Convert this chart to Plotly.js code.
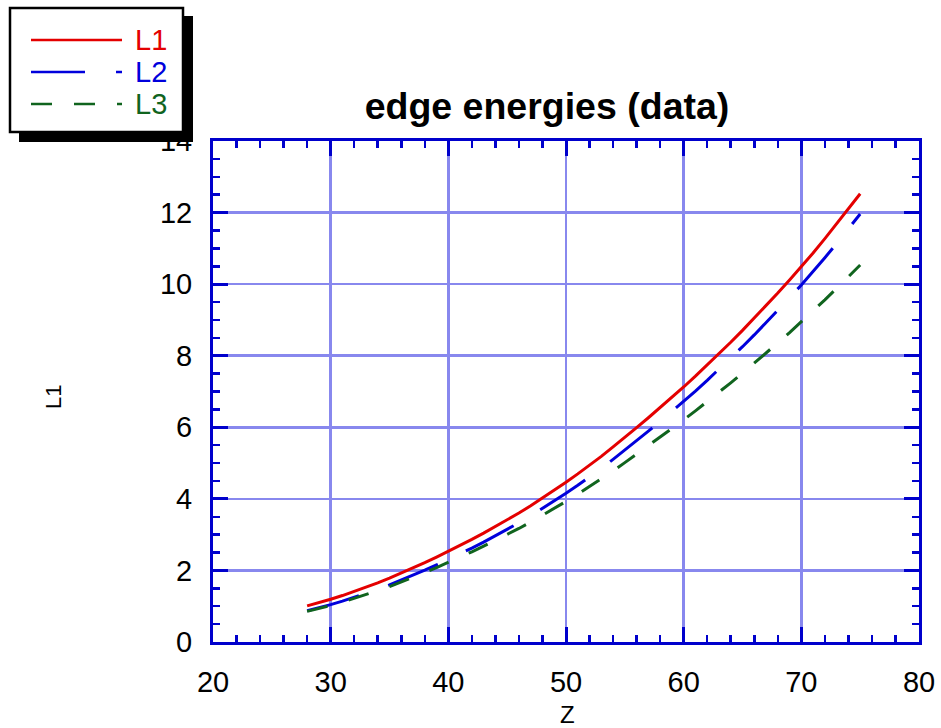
<!DOCTYPE html>
<html>
<head>
<meta charset="utf-8">
<script src="https://cdn.plot.ly/plotly-3.0.1.min.js"></script>
<style>html,body{margin:0;padding:0;background:#fff;}#chart{width:941px;height:728px;}</style>
</head>
<body>
<div id="chart"></div>
<script>
// Atomic number
var Z = [28,29,30,31,32,33,34,35,36,37,38,39,40,41,42,43,44,45,46,47,48,49,50,51,
         52,53,54,55,56,57,58,59,60,61,62,63,64,65,66,67,68,69,70,71,72,73,74,75];
// L-edge energies (keV)
var L1 = [1.008,1.096,1.194,1.298,1.414,1.527,1.654,1.782,1.921,2.065,2.216,2.373,2.532,2.698,
          2.866,3.043,3.224,3.412,3.604,3.806,4.018,4.238,4.465,4.698,4.939,5.188,5.453,5.714,
          5.989,6.266,6.549,6.835,7.126,7.428,7.737,8.052,8.376,8.708,9.046,9.394,9.751,10.116,
          10.486,10.870,11.271,11.682,12.100,12.527];
var L2 = [0.872,0.951,1.043,1.142,1.248,1.359,1.476,1.596,1.727,1.864,2.007,2.156,2.307,2.465,
          2.625,2.793,2.967,3.146,3.330,3.524,3.727,3.938,4.156,4.380,4.612,4.852,5.104,5.359,
          5.624,5.891,6.164,6.440,6.722,7.013,7.312,7.617,7.930,8.252,8.581,8.918,9.264,9.617,
          9.978,10.349,10.739,11.136,11.544,11.959];
var L3 = [0.855,0.931,1.020,1.115,1.217,1.323,1.436,1.550,1.675,1.804,1.940,2.080,2.222,2.371,
          2.520,2.677,2.838,3.004,3.173,3.351,3.538,3.730,3.929,4.132,4.341,4.557,4.782,5.012,
          5.247,5.483,5.723,5.964,6.208,6.459,6.716,6.977,7.243,7.514,7.790,8.071,8.358,8.648,
          8.944,9.244,9.561,9.881,10.207,10.535];
var seriesNames = ['L1','L2','L3'];
var xTicks = [20,30,40,50,60,70,80];
var yTicks = [0,2,4,6,8,10,12,14];
var xTitle = 'Z', yTitle = 'L1', chartTitle = 'edge energies (data)';

var W = 941, H = 728, ML = 213, MR = 22, MT = 141, MB = 86;
var PW = W - ML - MR, PH = H - MT - MB;
function px(x){ return (x - ML) / PW; }
function py(y){ return (H - MB - y) / PH; }

var RED = 'rgb(228,0,0)', BLUE = 'rgb(0,0,220)', GREEN = 'rgb(16,100,30)';
var AX = 'rgb(0,0,204)', GRID = 'rgb(136,136,238)';

var traces = [
  {x: Z, y: L1, name: seriesNames[0], mode: 'lines', line: {color: RED, width: 3}},
  {x: Z, y: L2, name: seriesNames[1], mode: 'lines', line: {color: BLUE, width: 3, dash: '54px,31px'}},
  {x: Z, y: L3, name: seriesNames[2], mode: 'lines', line: {color: GREEN, width: 3, dash: '21px,22px'}}
];

var font = 'Liberation Sans, Arial, sans-serif';
function axis(tv, minorDtick) {
  return {
    tickvals: tv, ticktext: tv.map(String),
    ticks: 'inside', ticklen: 15, tickwidth: 3, tickcolor: AX,
    showline: true, linecolor: AX, linewidth: 3, mirror: 'allticks',
    showgrid: true, gridcolor: GRID, gridwidth: 2.5,
    zeroline: false,
    tickfont: {family: font, size: 29, color: '#000'},
    ticklabelstandoff: 12,
    minor: {dtick: minorDtick, ticks: 'inside', ticklen: 7, tickwidth: 2.5, tickcolor: AX, showgrid: false},
    automargin: false
  };
}
var xa = axis(xTicks, 2);
xa.range = [20, 80];
var ya = axis(yTicks, 0.5);
ya.range = [0, 14];

var shapes = [
  {type: 'rect', xref: 'paper', yref: 'paper', layer: 'above',
   x0: px(19), x1: px(193), y0: py(16), y1: py(142), fillcolor: '#000', line: {width: 0}},
  {type: 'rect', xref: 'paper', yref: 'paper', layer: 'above',
   x0: px(10), x1: px(183), y0: py(8), y1: py(132), fillcolor: '#fff', line: {color: '#000', width: 2.5}},
  {type: 'line', xref: 'paper', yref: 'paper', layer: 'above',
   x0: px(31), x1: px(122), y0: py(40), y1: py(40), line: {color: RED, width: 2.5}},
  {type: 'line', xref: 'paper', yref: 'paper', layer: 'above',
   x0: px(31), x1: px(122), y0: py(72), y1: py(72), line: {color: BLUE, width: 2.5, dash: '54px,31px'}},
  {type: 'line', xref: 'paper', yref: 'paper', layer: 'above',
   x0: px(31), x1: px(122), y0: py(104), y1: py(104), line: {color: GREEN, width: 2.5, dash: '21px,22px'}}
];
var legColors = [RED, BLUE, GREEN];
var annotations = seriesNames.map(function(n, i){
  return {xref: 'paper', yref: 'paper', x: px(133), y: py(40 + 32*i), xanchor: 'left', yanchor: 'middle',
          text: n, showarrow: false, font: {family: font, size: 29, color: legColors[i]}};
});
annotations.push({xref: 'paper', yref: 'paper', x: px(567), y: py(714), xanchor: 'center', yanchor: 'middle',
  text: xTitle, showarrow: false, font: {family: font, size: 24, color: '#000'}});
annotations.push({xref: 'paper', yref: 'paper', x: px(53), y: py(397), xanchor: 'center', yanchor: 'middle',
  text: yTitle, textangle: -90, showarrow: false, font: {family: font, size: 22, color: '#000'}});

var layout = {
  width: W, height: H,
  margin: {l: ML, r: MR, t: MT, b: MB, pad: 0},
  paper_bgcolor: '#fff', plot_bgcolor: '#fff',
  showlegend: false,
  title: {text: '<b>' + chartTitle + '</b>', font: {family: font, size: 37.5, color: '#000'},
          x: px(547), xanchor: 'center', xref: 'paper', y: 1 - 106/H, yanchor: 'middle', yref: 'container'},
  xaxis: xa, yaxis: ya,
  shapes: shapes, annotations: annotations
};
Plotly.newPlot('chart', traces, layout, {staticPlot: true});
</script>
</body>
</html>
